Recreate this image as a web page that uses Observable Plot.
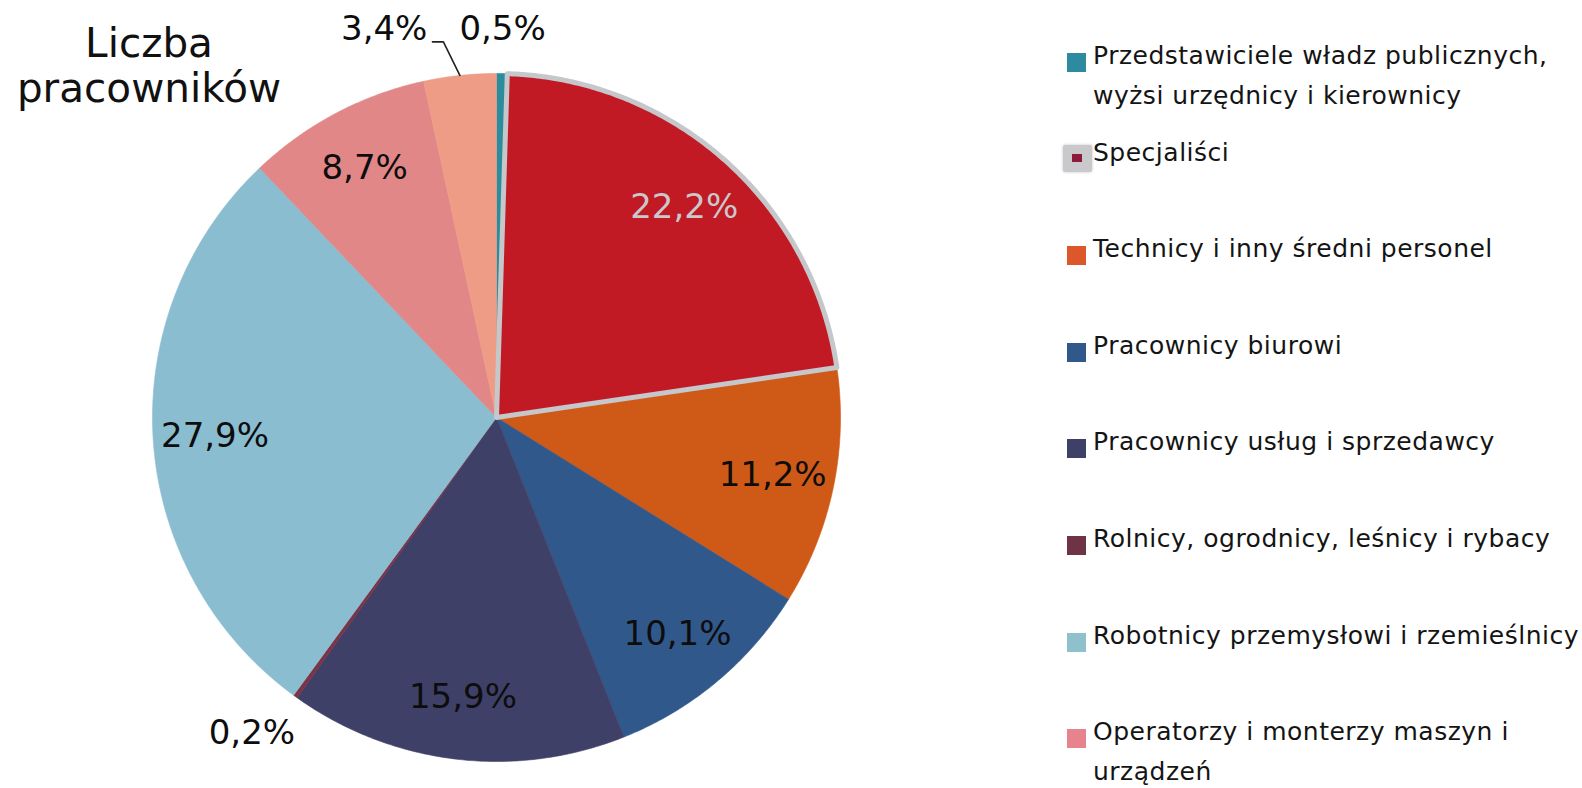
<!DOCTYPE html>
<html>
<head>
<meta charset="utf-8">
<script src="https://cdn.jsdelivr.net/npm/d3@7"></script>
<script src="https://cdn.jsdelivr.net/npm/@observablehq/plot@0.6"></script>
<style>
  html, body { margin: 0; padding: 0; background: #fff; }
  body { font-family: "DejaVu Sans", sans-serif; }
  #wrap { position: relative; width: 1582px; height: 788px; overflow: hidden; }
  #chart { position: absolute; left: 0; top: 0; }
  #title { position: absolute; left: 0; top: 21px; width: 298px; text-align: center;
           font-size: 40.5px; line-height: 45px; color: #111; }
  #legend { position: absolute; left: 1067px; top: 0; }
  .item { position: absolute; left: 0; width: 520px; height: 96px; }
  .sw { position: absolute; left: 0; top: 17px; width: 19px; height: 19px; }
  .sw.sel { left: -4px; top: 12px; width: 29px; height: 27px; background: #c9c9cb;
            box-shadow: 0 0 3px rgba(0,0,0,0.25); border-radius: 2px; }
  .sw.sel i { position: absolute; left: 9px; top: 9px; width: 10px; height: 8px; }
  .tx { position: absolute; left: 26px; top: 0; font-size: 25px; letter-spacing: 0.5px; line-height: 40px; color: #141414; white-space: nowrap; }
</style>
</head>
<body>
<div id="wrap">
  <div id="chart"></div>
  <div id="title">Liczba<br>pracowników</div>
  <div id="legend"></div>
</div>
<script>
// ---- data ----
const categories = [
  "Przedstawiciele władz publicznych, wyżsi urzędnicy i kierownicy",
  "Specjaliści",
  "Technicy i inny średni personel",
  "Pracownicy biurowi",
  "Pracownicy usług i sprzedawcy",
  "Rolnicy, ogrodnicy, leśnicy i rybacy",
  "Robotnicy przemysłowi i rzemieślnicy",
  "Operatorzy i monterzy maszyn i urządzeń",
  "Pracownicy przy pracach prostych"
];
const shares = [0.5, 22.2, 11.2, 10.1, 15.9, 0.2, 27.9, 8.7, 3.4];
const shareLabels = ["0,5%", "22,2%", "11,2%", "10,1%", "15,9%", "0,2%", "27,9%", "8,7%", "3,4%"];
const colors = ["#2b8c9d", "#c11a25", "#cf5a17", "#31588b", "#3f4068", "#7b3447", "#8bbdd1", "#e28788", "#ef9c86"];
const legendLines = [
  ["Przedstawiciele władz publicznych,", "wyżsi urzędnicy i kierownicy"],
  ["Specjaliści"],
  ["Technicy i inny średni personel"],
  ["Pracownicy biurowi"],
  ["Pracownicy usług i sprzedawcy"],
  ["Rolnicy, ogrodnicy, leśnicy i rybacy"],
  ["Robotnicy przemysłowi i rzemieślnicy"],
  ["Operatorzy i monterzy maszyn i", "urządzeń"]
];
const legendSwatch = ["#2e8b9f", "#8d1a3b", "#dc582a", "#31588b", "#3f4068", "#6e3344", "#8fc1cc", "#e7838d"];

// ---- layout constants (pixels) ----
const W = 1582, H = 788;
const CX = 496, CY = 417, R = 344;
const selected = 1; // highlighted slice (Specjaliści)
const labelFont = 34;
const labelFamily = "DejaVu Sans";

// ---- pie geometry ----
const total = d3.sum(shares);
let acc = 0;
const slices = shares.map((v, i) => {
  const a0 = acc / total * 2 * Math.PI;
  acc += v;
  const a1 = acc / total * 2 * Math.PI;
  return {i, name: categories[i], a0, a1, mid: (a0 + a1) / 2, v};
});
const pts = [];
for (const s of slices) {
  const n = Math.max(2, Math.ceil((s.a1 - s.a0) / (Math.PI / 360)));
  pts.push({name: s.name, x: 0, y: 0});
  for (let k = 0; k <= n; k++) {
    const a = s.a0 + (s.a1 - s.a0) * k / n;
    pts.push({name: s.name, x: Math.sin(a), y: Math.cos(a)});
  }
  pts.push({name: s.name, x: 0, y: 0});
}

// ---- labels ----
const ctx = document.createElement("canvas").getContext("2d");
ctx.font = `${labelFont}px "${labelFamily}"`;
const labelData = slices.map(s => {
  const outside = s.v < 5;
  const r = outside ? 1.13 : 0.82;
  const w = ctx.measureText(shareLabels[s.i]).width / R;
  // outside labels on the lower-left side sit a bit further out horizontally
  const dx = outside && Math.sin(s.mid) < -0.3 ? -w * 0.2 : 0;
  return {i: s.i, text: shareLabels[s.i], outside, mid: s.mid,
          x: r * Math.sin(s.mid) + dx, y: r * Math.cos(s.mid), w};
});
// resolve overlaps among outside labels (same row): push left ones leftwards
const outs = labelData.filter(d => d.outside).sort((a, b) => a.x - b.x);
const gapU = 32 / R;
for (let k = outs.length - 2; k >= 0; k--) {
  const a = outs[k], b = outs[k + 1];
  if (Math.abs(a.y - b.y) < 40 / R && a.x + a.w / 2 + gapU > b.x - b.w / 2) {
    a.shifted = true;
    a.y = b.y;
    a.x = b.x - b.w / 2 - gapU - a.w / 2;
  }
}
// leader lines for displaced labels
const leaders = [];
for (const d of labelData.filter(d => d.shifted)) {
  const yl = d.y - 13 / R;
  const x0 = d.x + d.w / 2 + 5 / R;
  leaders.push({id: d.i, x: x0, y: yl});
  leaders.push({id: d.i, x: x0 + 11 / R, y: yl});
  leaders.push({id: d.i, x: Math.sin(d.mid), y: Math.cos(d.mid)});
}

const plot = Plot.plot({
  width: W, height: H,
  margin: 0,
  x: {domain: [-CX / R, (W - CX) / R], axis: null},
  y: {domain: [-(H - CY) / R, CY / R], axis: null},
  color: {domain: categories, range: colors},
  style: {fontFamily: labelFamily, background: "transparent", overflow: "visible"},
  marks: [
    Plot.line(pts, {x: "x", y: "y", z: "name", fill: "name", stroke: "name", strokeWidth: 0.6, curve: "linear"}),
    Plot.line(pts.filter(d => d.name === categories[selected]),
      {x: "x", y: "y", fill: colors[selected], stroke: "#c5c7ca", strokeWidth: 5, strokeLinejoin: "round", curve: "linear"}),
    Plot.line(leaders, {x: "x", y: "y", z: "id", stroke: "#222", strokeWidth: 1.6, curve: "linear"}),
    Plot.text(labelData.filter(d => d.i !== selected),
      {x: "x", y: "y", text: "text", fontSize: labelFont, fill: "#0d0d0d", textAnchor: "middle"}),
    Plot.text(labelData.filter(d => d.i === selected),
      {x: "x", y: "y", text: "text", fontSize: labelFont, fill: "#c9c9cd", textAnchor: "middle"})
  ]
});
document.getElementById("chart").appendChild(plot);

// ---- legend (the reference crops after the eighth entry) ----
const legend = document.getElementById("legend");
legendLines.forEach((lines, i) => {
  const item = document.createElement("div");
  item.className = "item";
  item.style.top = (36 + i * 96.6) + "px";
  const sw = document.createElement("div");
  if (i === selected) {
    sw.className = "sw sel";
    const inner = document.createElement("i");
    inner.style.background = legendSwatch[i];
    sw.appendChild(inner);
  } else {
    sw.className = "sw";
    sw.style.background = legendSwatch[i];
  }
  const tx = document.createElement("div");
  tx.className = "tx";
  tx.innerHTML = lines.join("<br>");
  item.appendChild(sw);
  item.appendChild(tx);
  legend.appendChild(item);
});
</script>
</body>
</html>
